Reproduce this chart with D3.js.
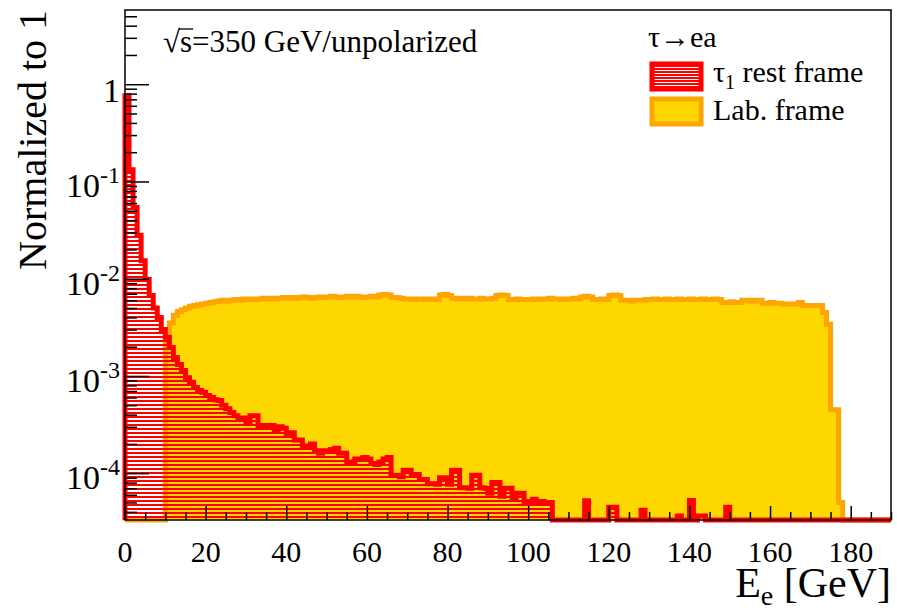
<!DOCTYPE html>
<html>
<head>
<meta charset="utf-8">
<script src="https://cdn.jsdelivr.net/npm/d3@7/dist/d3.min.js"></script>
<style>
body { margin: 0; background: #fff; }
</style>
</head>
<body>
<div id="container"></div>
<script>
// histogram binning: 1 GeV bins from 0 to 190
const binEdges = d3.range(0, 191, 1)

// tau_1 rest frame (red), one value per bin
const restFrame = [
  0.76, 0.132, 0.054, 0.028, 0.0153, 0.0098, 0.0067, 0.005, 0.004, 0.003,
  0.0025, 0.00196, 0.00155, 0.00131, 0.00114, 0.00096, 0.00086, 0.00076, 0.00071, 0.00068,
  0.00063, 0.0006, 0.00057, 0.00056, 0.0005, 0.00046, 0.00042, 0.00039, 0.00036, 0.00037,
  0.00033, 0.00039, 0.00039, 0.00031, 0.00031, 0.0003, 0.00031, 0.00027, 0.0003, 0.00029,
  0.00025, 0.00026, 0.00022, 0.00022, 0.00019, 0.00019, 0.0002, 0.00017, 0.00016, 0.00017,
  0.00017, 0.000175, 0.00018, 0.00016, 0.00016, 0.00013, 0.00013, 0.00014, 0.00014, 0.000145,
  0.00014, 0.000126, 0.000123, 0.00013, 0.00014, 0.000145, 0.000095, 0.000095, 0.000092, 0.000107,
  0.000107, 0.000097, 0.000097, 0.000086, 0.000086, 0.000078, 0.000078, 0.000077, 0.00009, 0.00009,
  0.000077, 0.000107, 0.000107, 0.000071, 0.000071, 0.00007, 0.000095, 0.000095, 0.000071, 0.00007,
  0.000062, 0.00008, 0.00008, 0.000058, 0.00007, 0.00007, 0.000054, 0.000062, 0.000062, 0.000051,
  0.000051, 0.000054, 0.000051, 0.000051, 0.00005, 0.00005, 0, 0, 0, 0,
  0, 0, 0, 0, 0.000052, 0, 0, 0, 0, 0,
  0.0000445, 0.0000445, 0, 0, 0, 0, 0, 0, 0.0000415, 0,
  0, 0, 0, 0, 0, 0, 0, 0.0000363, 0, 0,
  0.0000524, 0, 0.0000363, 0.0000363, 0, 0, 0, 0, 0, 0.0000445,
  0, 0, 0, 0, 0, 0, 0, 0, 0, 0,
  0, 0, 0, 0, 0, 0, 0, 0, 0, 0,
  0, 0, 0, 0, 0, 0, 0, 0, 0, 0,
  0, 0, 0, 0, 0, 0, 0, 0, 0, 0
]

// lab frame (orange), one value per bin
const labFrame = [
  0, 0, 0, 0, 0, 0, 0, 0, 0, 0,
  0.0026, 0.0035, 0.0042, 0.0046, 0.0048, 0.005, 0.0052, 0.0053, 0.0054, 0.0055,
  0.0056, 0.0057, 0.0058, 0.0059, 0.006, 0.0059, 0.006, 0.0061, 0.006, 0.0062,
  0.0061, 0.0062, 0.0061, 0.0062, 0.0063, 0.0062, 0.0063, 0.0062, 0.0063, 0.0064,
  0.0063, 0.0064, 0.0063, 0.0064, 0.0065, 0.0064, 0.0063, 0.0064, 0.0065, 0.0064,
  0.0065, 0.0066, 0.0065, 0.0064, 0.0065, 0.0066, 0.0065, 0.0066, 0.0065, 0.0064,
  0.0065, 0.0066, 0.0065, 0.0068, 0.0069, 0.0068, 0.0064, 0.0064, 0.0063, 0.0062,
  0.0062, 0.0061, 0.0062, 0.0062, 0.0061, 0.0062, 0.0062, 0.0061, 0.0068, 0.0069,
  0.0067, 0.0063, 0.0062, 0.0063, 0.0062, 0.0063, 0.0062, 0.0062, 0.0063, 0.0062,
  0.0062, 0.0063, 0.0067, 0.0068, 0.0067, 0.0061, 0.0061, 0.0062, 0.0061, 0.0061,
  0.0061, 0.0062, 0.0061, 0.0062, 0.0062, 0.0063, 0.0062, 0.0062, 0.0061, 0.0062,
  0.0062, 0.0063, 0.0062, 0.0065, 0.0066, 0.0065, 0.0061, 0.0061, 0.0062, 0.0061,
  0.0067, 0.0068, 0.0067, 0.006, 0.006, 0.0059, 0.006, 0.006, 0.006, 0.0061,
  0.0061, 0.0062, 0.0061, 0.0061, 0.0062, 0.0061, 0.0061, 0.0062, 0.0061, 0.0061,
  0.0062, 0.0061, 0.0061, 0.0062, 0.0061, 0.0061, 0.0062, 0.0061, 0.0057, 0.0057,
  0.0058, 0.0057, 0.0057, 0.006, 0.006, 0.0059, 0.006, 0.006, 0.0056, 0.0056,
  0.0057, 0.0056, 0.0056, 0.0055, 0.0055, 0.0055, 0.0055, 0.0057, 0.0053, 0.0053,
  0.0053, 0.0053, 0.0053, 0.0045, 0.0034, 0.00045, 0.00045, 0.00005, 0, 0,
  0, 0, 0, 0, 0, 0, 0, 0, 0, 0
]

const xTickValues = [0, 20, 40, 60, 80, 100, 120, 140, 160, 180]
const yDecades = [1, 0.1, 0.01, 0.001, 0.0001]
const yDecadeExp = ["", "-1", "-2", "-3", "-4"]

const w = 897
const h = 610
const frameL = 125, frameR = 891, frameT = 10, frameB = 520
const yMin = 3.3e-5, yMax = 5.8

const svg = d3.select("#container")
  .append("svg")
  .attr("width", w)
  .attr("height", h)
  .attr("font-family", "Liberation Serif")

const x = d3.scaleLinear().domain([0, 190]).range([frameL, frameR])
const y = d3.scaleLog().domain([yMin, yMax]).range([frameB, frameT])

const defs = svg.append("defs")
const hatch = defs.append("pattern")
  .attr("id", "hatch")
  .attr("patternUnits", "userSpaceOnUse")
  .attr("width", 8)
  .attr("height", 4)
hatch.append("rect")
  .attr("width", 8)
  .attr("height", 2)
  .attr("fill", "#ff0000")

const legHatch = defs.append("pattern")
  .attr("id", "leghatch")
  .attr("patternUnits", "userSpaceOnUse")
  .attr("width", 8)
  .attr("height", 3)
legHatch.append("rect").attr("width", 8).attr("height", 3).attr("fill", "#ff0000")
legHatch.append("rect").attr("y", 1).attr("width", 8).attr("height", 1).attr("fill", "#ffffff")

const clampY = (v) => y(Math.max(v, yMin))

// step points for a histogram: one point per left edge plus closing right edge
const histPoints = (vals) => {
  let pts = vals.map((v, i) => [binEdges[i], v])
  pts.push([binEdges[vals.length], vals[vals.length - 1]])
  return pts
}

const area = d3.area()
  .curve(d3.curveStepAfter)
  .x((d) => x(d[0]))
  .y0(frameB)
  .y1((d) => clampY(d[1]))

const outlineLine = d3.line()
  .x((d) => x(d[0]))
  .y((d) => clampY(d[1]))

const drawHist = (vals, fill, stroke) => {
  let pts = histPoints(vals)
  svg.append("path")
    .datum(pts)
    .attr("d", area)
    .attr("fill", fill)
    .attr("stroke", "none")
  // outline goes from the bottom up, along the bins and back down
  let stepped = []
  pts.forEach((p, i) => {
    if (i > 0) stepped.push([p[0], pts[i - 1][1]])
    stepped.push(p)
  })
  svg.append("path")
    .datum([[0, 0]].concat(stepped).concat([[190, 0]]))
    .attr("d", outlineLine)
    .attr("fill", "none")
    .attr("stroke", stroke)
    .attr("stroke-width", 5)
    .attr("stroke-linejoin", "miter")
}

drawHist(labFrame, "#ffd700", "#ffa500")
drawHist(restFrame, "url(#hatch)", "#ff0000")

// frame
svg.append("rect")
  .attr("x", frameL)
  .attr("y", frameT)
  .attr("width", frameR - frameL)
  .attr("height", frameB - frameT)
  .attr("fill", "none")
  .attr("stroke", "#000")
  .attr("stroke-width", 1.5)

// x ticks (inside)
const xMinor = d3.range(0, 191, 5).filter((v) => v % 20 != 0)
svg.append("g")
  .attr("transform", `translate(0,${frameB})`)
  .call(d3.axisBottom(x).tickValues(xTickValues).tickSize(-14).tickFormat(""))
  .call((g) => g.select(".domain").remove())
svg.append("g")
  .attr("transform", `translate(0,${frameB})`)
  .call(d3.axisBottom(x).tickValues(xMinor).tickSize(-8).tickFormat(""))
  .call((g) => g.select(".domain").remove())

// y ticks (inside)
let yMinor = []
for (let e = -5; e <= 0; e++) {
  for (let m = 2; m <= 9; m++) {
    let v = m * Math.pow(10, e)
    if (v >= yMin && v <= yMax) yMinor.push(v)
  }
}
svg.append("g")
  .attr("transform", `translate(${frameL},0)`)
  .call(d3.axisLeft(y).tickValues(yDecades).tickSize(-24).tickFormat(""))
  .call((g) => g.select(".domain").remove())
svg.append("g")
  .attr("transform", `translate(${frameL},0)`)
  .call(d3.axisLeft(y).tickValues(yMinor).tickSize(-12).tickFormat(""))
  .call((g) => g.select(".domain").remove())
svg.selectAll(".tick line").attr("stroke", "#000").attr("stroke-width", 1.5)

// x tick labels
svg.selectAll(".xlab")
  .data(xTickValues)
  .enter()
  .append("text")
  .attr("class", "xlab")
  .attr("x", (d) => x(d))
  .attr("y", 562)
  .attr("text-anchor", "middle")
  .attr("font-size", 30)
  .text((d) => d)

// y tick labels
yDecades.forEach((v, i) => {
  let t = svg.append("text")
    .attr("x", 120)
    .attr("text-anchor", "end")
    .attr("font-size", 34)
  if (yDecadeExp[i] == "") {
    t.attr("y", y(v) + 18).text("1")
  } else {
    t.attr("y", y(v) + 16)
    t.append("tspan").text("10")
    t.append("tspan").attr("dy", -14).attr("font-size", 24).text(yDecadeExp[i])
  }
})

// axis titles
const xt = svg.append("text")
  .attr("x", frameR)
  .attr("y", 597)
  .attr("text-anchor", "end")
  .attr("font-size", 42)
xt.append("tspan").text("E")
xt.append("tspan").attr("dy", 8).attr("font-size", 28).text("e")
xt.append("tspan").attr("dy", -8).text(" [GeV]")

svg.append("text")
  .attr("transform", `translate(46,${frameT}) rotate(-90)`)
  .attr("text-anchor", "end")
  .attr("font-size", 40)
  .text("Normalized to 1")

// energy label with an overline on s
const rs = svg.append("text")
  .attr("x", 163)
  .attr("y", 52)
  .attr("font-size", 31)
rs.append("tspan").text("\u221A")
rs.append("tspan").text("s")
rs.append("tspan").text("=350 GeV/unpolarized")
const rootBox = rs.node().getBBox()
const sStart = rs.node().getStartPositionOfChar(1)
const sEnd = rs.node().getEndPositionOfChar(1)
svg.append("line")
  .attr("x1", sStart.x - 1)
  .attr("x2", sEnd.x + 1)
  .attr("y1", rootBox.y + 5)
  .attr("y2", rootBox.y + 5)
  .attr("stroke", "#000")
  .attr("stroke-width", 1.3)

// legend
svg.append("text")
  .attr("x", 648)
  .attr("y", 47)
  .attr("font-size", 30)
  .text("\u03C4\u2192ea")

svg.append("rect")
  .attr("x", 652).attr("y", 64)
  .attr("width", 49).attr("height", 25)
  .attr("fill", "url(#leghatch)")
  .attr("stroke", "#ff0000")
  .attr("stroke-width", 5)
const l1 = svg.append("text")
  .attr("x", 713)
  .attr("y", 82)
  .attr("font-size", 30)
l1.append("tspan").text("\u03C4")
l1.append("tspan").attr("dy", 7).attr("font-size", 20).text("1")
l1.append("tspan").attr("dy", -7).text(" rest frame")

svg.append("rect")
  .attr("x", 652).attr("y", 99)
  .attr("width", 49).attr("height", 25)
  .attr("fill", "#ffd700")
  .attr("stroke", "#ffa500")
  .attr("stroke-width", 5)
svg.append("text")
  .attr("x", 713)
  .attr("y", 120)
  .attr("font-size", 30)
  .text("Lab. frame")
</script>
</body>
</html>
